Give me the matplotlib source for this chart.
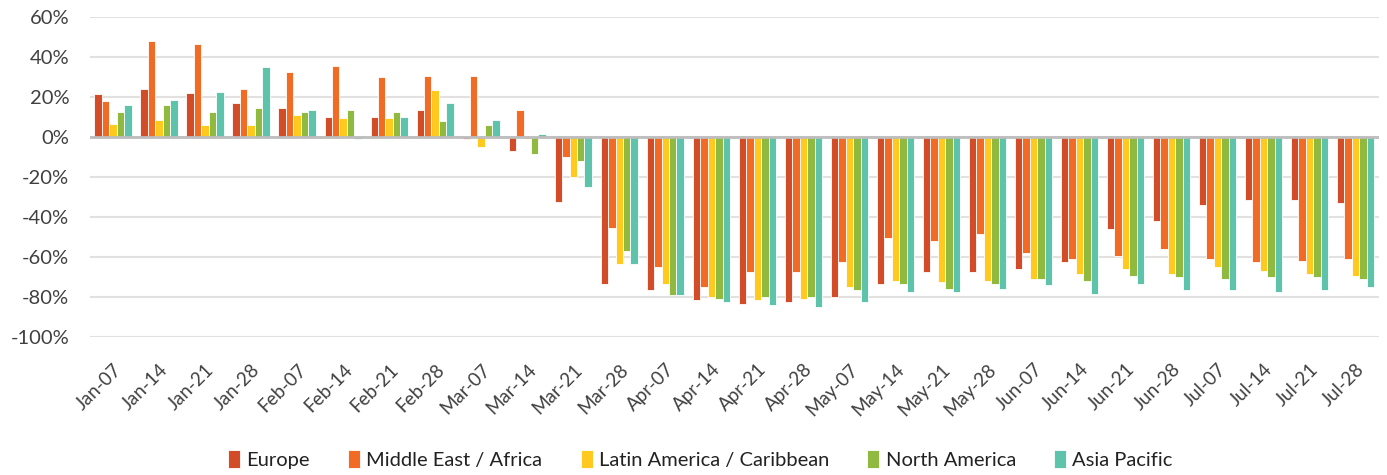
import numpy as np
import matplotlib.pyplot as plt
from matplotlib.ticker import FuncFormatter

# Data (% change)
weeks = ['Jan-07', 'Jan-14', 'Jan-21', 'Jan-28', 'Feb-07', 'Feb-14', 'Feb-21', 'Feb-28',
         'Mar-07', 'Mar-14', 'Mar-21', 'Mar-28', 'Apr-07', 'Apr-14', 'Apr-21', 'Apr-28',
         'May-07', 'May-14', 'May-21', 'May-28', 'Jun-07', 'Jun-14', 'Jun-21', 'Jun-28',
         'Jul-07', 'Jul-14', 'Jul-21', 'Jul-28']
europe = [21.5, 24, 21.8, 16.8, 14.3, 10, 10, 13.5,
          -1, -6.8, -32.3, -73.5, -76.7, -81.7, -83.3, -82.5,
          -80, -73.5, -67.7, -67.7, -66, -62.7, -46.2, -42.2,
          -34, -31.5, -31.5, -33.2]
mea = [18, 48, 46.3, 24, 32.3, 35.7, 29.8, 30.7,
       30.7, 13.5, -10.2, -45.5, -65.2, -75, -67.7, -67.7,
       -62.7, -50.3, -52, -48.7, -57.8, -61, -59.3, -56.2,
       -61, -62.7, -61.8, -61]
latam = [6.7, 8.5, 6, 6, 11, 9.3, 9.3, 23.3,
         -5.2, -1, -20.2, -63.5, -73.3, -80, -81.7, -80.8,
         -75, -71.8, -72.5, -71.8, -70.8, -68.5, -66, -68.5,
         -65.2, -66.8, -68.5, -69.3]
north_america = [12.5, 16, 12.7, 14.3, 12.7, 13.5, 12.7, 7.8,
                 6, -8.5, -11.8, -56.8, -79, -80.8, -80, -80,
                 -76.7, -73.5, -75.8, -73.5, -70.8, -71.8, -69.3, -70,
                 -70.8, -70, -70, -70.8]
asia_pacific = [15.8, 18.5, 22.5, 34.8, 13.5, -1, 10, 16.8,
                8.5, 1.3, -24.8, -63.5, -79, -82.5, -84.2, -85,
                -82.5, -77.5, -77.5, -75.8, -74.2, -78.3, -73.3, -76.7,
                -76.7, -77.5, -76.7, -75]

series = [europe, mea, latam, north_america, asia_pacific]
names = ['Europe', 'Middle East / Africa', 'Latin America / Caribbean', 'North America', 'Asia Pacific']
colors = ['#d24d27', '#f26b25', '#ffc91f', '#8fb93f', '#5ec3ab']

plt.rcParams['font.family'] = ['Lato', 'DejaVu Sans']

fig = plt.figure(figsize=(13.87, 4.75), dpi=100)
ax = fig.add_axes([0.0649, 0.2905, 0.9291, 0.6735])

x = np.arange(len(weeks))
w = 0.162
for i, (vals, name, c) in enumerate(zip(series, names, colors)):
    ax.bar(x + (i - 2) * w, vals, width=w, color=c, edgecolor='white', linewidth=0.6,
           label=name, zorder=3)

ax.set_xlim(-0.5, len(weeks) - 0.5)
ax.set_ylim(-100, 60)
ax.set_yticks(np.arange(-100, 61, 20))
ax.yaxis.set_major_formatter(FuncFormatter(lambda v, p: f'{v:.0f}%'))
ax.grid(axis='y', color='#e3e1df', linewidth=1.5, zorder=0)
ax.axhline(0, color='#bdbdbd', linewidth=2, zorder=4)

ax.set_xticks(x)
ax.set_xticklabels(weeks, rotation=45, ha='right', rotation_mode='anchor')
ax.tick_params(axis='x', length=0, labelsize=13.5, colors='#404040', pad=17)
ax.tick_params(axis='y', length=0, labelsize=14.5, colors='#404040', pad=15)
for s in ax.spines.values():
    s.set_visible(False)

fig.legend(loc='lower center', bbox_to_anchor=(0.505, -0.025), ncol=5, frameon=False,
           fontsize=14.5, handlelength=0.6, handleheight=1.0, handletextpad=0.3,
           columnspacing=1.9, labelcolor='#222222')

fig.savefig('out.png', dpi=100)
